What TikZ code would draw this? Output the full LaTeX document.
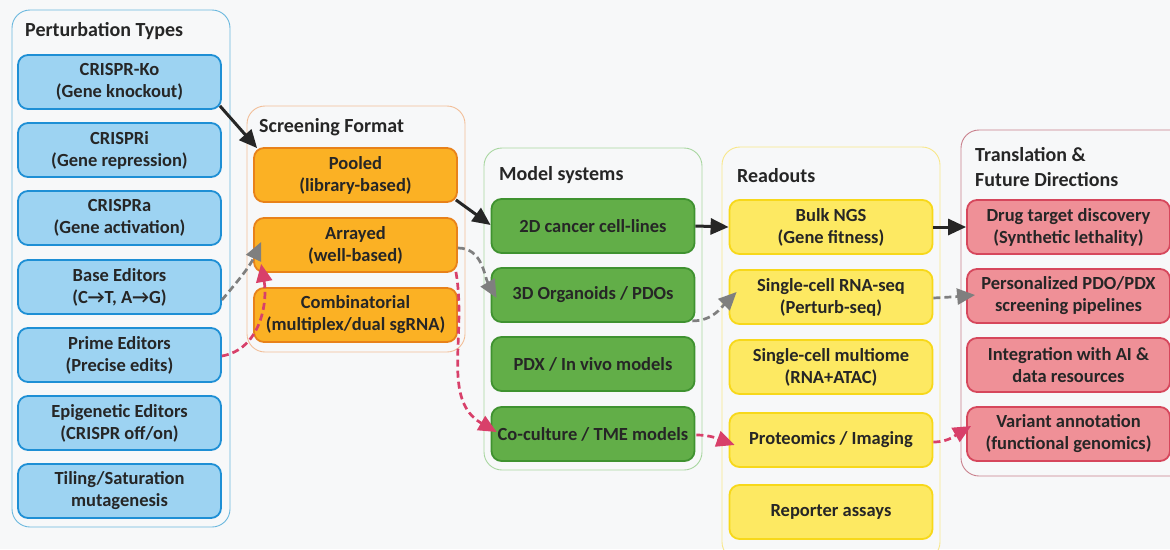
\documentclass[tikz,border=0pt]{standalone}
\usepackage{fontspec}
\setmainfont{Carlito}
\usetikzlibrary{arrows.meta}
\definecolor{bg}{HTML}{F7F8F9}
\definecolor{bluefill}{HTML}{9DD3F2}
\definecolor{blueline}{HTML}{1E8FD5}
\definecolor{bluegrp}{HTML}{6BB8DE}
\definecolor{orfill}{HTML}{FBB124}
\definecolor{orline}{HTML}{E8821A}
\definecolor{orgrp}{HTML}{F2BE98}
\definecolor{grfill}{HTML}{62AE48}
\definecolor{grline}{HTML}{3F9230}
\definecolor{grgrp}{HTML}{A8D6A0}
\definecolor{yefill}{HTML}{FDE962}
\definecolor{yeline}{HTML}{F7D81A}
\definecolor{yegrp}{HTML}{F8E78A}
\definecolor{rdfill}{HTML}{EF9097}
\definecolor{rdline}{HTML}{D6475C}
\definecolor{rdgrp}{HTML}{C9808C}
\definecolor{txt}{HTML}{262626}
\definecolor{arrgray}{HTML}{7F7F7F}
\definecolor{arrred}{HTML}{D8406A}
\definecolor{arrblack}{HTML}{262626}
\begin{document}
\begin{tikzpicture}[x=1pt,y=1pt,
  box/.style={rounded corners=10pt, minimum width=203pt, minimum height=54pt,
    line width=1.8pt, align=center, text=txt, inner sep=0pt,
    font=\bfseries\fontsize{18.5}{22}\selectfont},
  bbox/.style={box, fill=bluefill, draw=blueline},
  obox/.style={box, fill=orfill, draw=orline},
  gbox/.style={box, fill=grfill, draw=grline},
  ybox/.style={box, fill=yefill, draw=yeline},
  rbox/.style={box, fill=rdfill, draw=rdline},
  grp/.style={rounded corners=18pt, line width=0.9pt},
  gtitle/.style={anchor=west, text=txt, inner sep=0pt, align=left,
    font=\bfseries\fontsize{20}{25}\selectfont},
  arrtip/.style={-{Triangle[length=18pt,width=16pt]}},
  solidarr/.style={arrtip, line width=3pt, draw=arrblack},
  gdash/.style={arrtip, line width=2.7pt, draw=arrgray, dash pattern=on 7pt off 4pt},
  rdash/.style={arrtip, line width=2.7pt, draw=arrred, dash pattern=on 7pt off 4pt}
]
\fill[bg] (0,0) rectangle (1170,-549);
\useasboundingbox (0,0) rectangle (1170,-549);

% groups
\draw[grp, draw=bluegrp] (12,-10) rectangle (230,-527);
\draw[grp, draw=orgrp] (247,-106) rectangle (465,-352);
\draw[grp, draw=grgrp] (484,-148) rectangle (702,-470);
\draw[grp, draw=yegrp] (722,-147) rectangle (940,-560);
\draw[grp, draw=rdgrp] (961,-130) rectangle (1190,-476);

\node[gtitle] (tpert) at (25,-31) {Perturbation Types};
\node[gtitle] (tscr) at (259,-127) {Screening Format};
\node[gtitle] (tmod) at (499,-175) {Model systems};
\node[gtitle] (tread) at (737,-176) {Readouts};
\node[gtitle] (ttrans) at (975,-167) {Translation \&\\Future Directions};

% perturbation types
\node[bbox] (ko)   at (119.5,-82)  {CRISPR-Ko\\(Gene knockout)};
\node[bbox] (cri)  at (119.5,-150) {CRISPRi\\(Gene repression)};
\node[bbox] (cra)  at (119.5,-218) {CRISPRa\\(Gene activation)};
\node[bbox] (base) at (119.5,-287) {Base Editors\\(C→T, A→G)};
\node[bbox] (prime) at (119.5,-355) {Prime Editors\\(Precise edits)};
\node[bbox] (epi)  at (119.5,-423) {Epigenetic Editors\\(CRISPR off/on)};
\node[bbox] (til)  at (119.5,-491) {Tiling/Saturation\\mutagenesis};

% screening format
\node[obox] (pool) at (355.5,-175) {Pooled\\(library-based)};
\node[obox] (arr)  at (355.5,-245) {Arrayed\\(well-based)};
\node[obox] (comb) at (355.5,-315) {Combinatorial\\(multiplex/dual sgRNA)};

% model systems
\node[gbox] (twod) at (593,-226) {2D cancer cell-lines};
\node[gbox] (o3d)  at (593,-295) {3D Organoids / PDOs};
\node[gbox] (pdx)  at (593,-364) {PDX / In vivo models};
\node[gbox] (cc)   at (593,-434) {Co-culture / TME models};

% readouts
\node[ybox] (bulk) at (831,-227) {Bulk NGS\\(Gene fitness)};
\node[ybox] (scr)  at (831,-297) {Single-cell RNA-seq\\(Perturb-seq)};
\node[ybox] (scm)  at (831,-367) {Single-cell multiome\\(RNA+ATAC)};
\node[ybox] (prot) at (831,-440) {Proteomics / Imaging};
\node[ybox] (rep)  at (831,-512) {Reporter assays};

% translation
\node[rbox] (drug) at (1068.5,-227) {Drug target discovery\\(Synthetic lethality)};
\node[rbox] (pers) at (1068.5,-296) {Personalized PDO/PDX\\screening pipelines};
\node[rbox] (ai)   at (1068.5,-365) {Integration with AI \&\\data resources};
\node[rbox] (var)  at (1068.5,-434) {Variant annotation\\(functional genomics)};

% solid arrows
\draw[solidarr] ([xshift=-2pt,yshift=4pt]ko.south east) -- ([xshift=4pt,yshift=-1pt]pool.north west);
\draw[solidarr] ([xshift=-2pt,yshift=3pt]pool.south east) -- ([yshift=1pt]twod.west);
\draw[solidarr] (twod.east) -- (bulk.west);
\draw[solidarr] (bulk.east) -- (drug.west);

% dashed arrows
\draw[gdash] ([yshift=-13pt]base.east) to[out=50,in=-115] ([xshift=8pt,yshift=3pt]arr.west);
\draw[rdash] ([yshift=-1pt]prime.east) to[out=10,in=-80] ([xshift=8pt,yshift=9pt]arr.south west);
\draw[gdash] ([yshift=-3pt]arr.east) to[out=0,in=120] ([xshift=6pt,yshift=-3pt]o3d.west);
\draw[rdash] ([xshift=-2pt,yshift=1pt]arr.south east) to[out=-80,in=150] ([xshift=6pt,yshift=2pt]cc.west);
\draw[gdash] ([xshift=-3pt,yshift=2pt]o3d.south east) to[out=0,in=-135] ([xshift=8pt,yshift=5pt]scr.west);
\draw[rdash] ([xshift=1pt,yshift=-1pt]cc.east) to[out=0,in=160] ([xshift=6pt,yshift=-5pt]prot.west);
\draw[gdash] ([yshift=-1pt]scr.east) to[out=3,in=185] ([xshift=9pt,yshift=1pt]pers.west);
\draw[rdash] ([yshift=-2pt]prot.east) to[out=0,in=-150] ([xshift=5pt,yshift=8pt]var.west);
\end{tikzpicture}
\end{document}
